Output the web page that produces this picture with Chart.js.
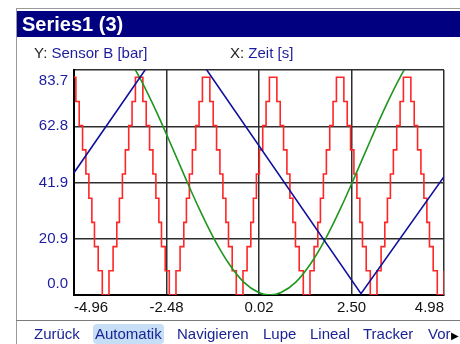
<!DOCTYPE html>
<html>
<head>
<meta charset="utf-8">
<script src="https://cdn.jsdelivr.net/npm/chart.js@4.4.1/dist/chart.umd.min.js"></script>
<style>
  body { margin: 0; width: 460px; height: 344px; background: #fff; overflow: hidden; position: relative;
         font-family: 'Liberation Sans', Arial, sans-serif; }
  canvas { position: absolute; left: 0; top: 0; }
  #frame { position: absolute; left: 16px; top: 8px; width: 444px; height: 336px;
           border-left: 1px solid #9a9a9a; border-top: 1px solid #9a9a9a; }
  #titlebar { position: absolute; left: 17px; top: 11px; width: 443px; height: 26px; background: #000080;
              color: #fff; font-weight: bold; font-size: 20px; line-height: 27px; padding-left: 5px; box-sizing: border-box; }
  .lab { position: absolute; top: 44px; font-size: 15px; line-height: 18px; color: #222; white-space: nowrap; }
  .lab span { color: #1c1c9c; }
  #sep { position: absolute; left: 16px; top: 320px; width: 444px; border-top: 1px solid #7a7a7a; }
  .menu { position: absolute; top: 324px; font-size: 15px; line-height: 20px; color: #1c2494; white-space: nowrap; }
  #auto { background: #c6def6; border-radius: 4px; padding: 0 2px; }
</style>
</head>
<body>
<canvas id="myChart" width="460" height="344"></canvas>
<div id="frame"></div>
<div id="titlebar">Series1 (3)</div>
<div class="lab" style="left:34px">Y:&nbsp;<span>Sensor B [bar]</span></div>
<div class="lab" style="left:230px">X:&nbsp;<span>Zeit [s]</span></div>
<div id="sep"></div>
<div class="menu" style="left:34px">Zurück</div>
<div class="menu" id="auto" style="left:93px">Automatik</div>
<div class="menu" style="left:177px">Navigieren</div>
<div class="menu" style="left:263px">Lupe</div>
<div class="menu" style="left:310px">Lineal</div>
<div class="menu" style="left:363px">Tracker</div>
<div class="menu" style="left:428px">Vor<span style="color:#000;font-size:10px">&#9654;</span></div>
<script>
// axis ticks
const xTicks = [-4.96, -2.475, 0.01, 2.495, 4.98]
const xTickLabels = ['-4.96', '-2.48', '0.02', '2.50', '4.98']
const yTicks = [0, 20.925, 41.85, 62.775, 83.7]
const yTickLabels = ['0.0', '20.9', '41.9', '62.8', '83.7']

// red: stepped signal (time where each level starts, level)
const redT = [
	-5.11, -4.91, -4.82, -4.73, -4.64, -4.56, -4.48, -4.41, -4.31, -4.20,
	-4.02, -3.91, -3.81, -3.74, -3.66, -3.58, -3.49, -3.40, -3.31, -3.11, -3.02, -2.93, -2.84, -2.76, -2.68, -2.61, -2.51, -2.40,
	-2.22, -2.11, -2.01, -1.94, -1.86, -1.78, -1.69, -1.60, -1.51, -1.31, -1.22, -1.13, -1.04, -0.96, -0.88, -0.81, -0.71, -0.60,
	-0.42, -0.31, -0.21, -0.14, -0.06, 0.02, 0.11, 0.20, 0.29, 0.49, 0.58, 0.67, 0.76, 0.84, 0.92, 0.99, 1.09, 1.20,
	1.38, 1.49, 1.59, 1.66, 1.74, 1.82, 1.91, 2.00, 2.09, 2.29, 2.38, 2.47, 2.56, 2.64, 2.72, 2.79, 2.89, 3.00,
	3.18, 3.29, 3.39, 3.46, 3.54, 3.62, 3.71, 3.80, 3.89, 4.09, 4.18, 4.27, 4.36, 4.44, 4.52, 4.59, 4.69, 4.80,
	4.98, 5.10
]
const redY = [
	81, 72, 63, 54, 45, 36, 27, 18, 9, 0,
	9, 18, 27, 36, 45, 54, 63, 72, 81, 72, 63, 54, 45, 36, 27, 18, 9, 0,
	9, 18, 27, 36, 45, 54, 63, 72, 81, 72, 63, 54, 45, 36, 27, 18, 9, 0,
	9, 18, 27, 36, 45, 54, 63, 72, 81, 72, 63, 54, 45, 36, 27, 18, 9, 0,
	9, 18, 27, 36, 45, 54, 63, 72, 81, 72, 63, 54, 45, 36, 27, 18, 9, 0,
	9, 18, 27, 36, 45, 54, 63, 72, 81, 72, 63, 54, 45, 36, 27, 18, 9, 0,
	9, 9
]

// green curve
const greenT = [-3.6, -3.2, -2.8, -2.4, -2.0, -1.6, -1.2, -0.8, -0.4, 0.0, 0.3, 0.6, 1.0, 1.4, 1.8, 2.2, 2.6, 3.0, 3.4, 3.8, 4.2]
const greenY = [90.3, 81.0, 69.8, 57.4, 44.6, 32.2, 21.0, 11.7, 4.8, 0.9, 0.0, 0.9, 4.8, 11.7, 21.0, 32.2, 44.6, 57.4, 69.8, 81.0, 90.3]

// blue triangle
const blueT = [-4.96, -2.22, 2.75, 4.98]
const blueY = [45.5, 100.3, 0.5, 44.0]

const xy = (ts, ys) => ts.map((t, i) => ({ x: t, y: ys[i] }))
const tickFont = { family: "'Liberation Sans', Arial, sans-serif", size: 15 }

const context = document.getElementById('myChart')
const data = {
	datasets: [
		{
			label: 'blue',
			data: xy(blueT, blueY),
			borderColor: '#10109c',
			borderWidth: 1.6,
			pointRadius: 0,
		},
		{
			label: 'green',
			data: xy(greenT, greenY),
			borderColor: '#1f961f',
			borderWidth: 1.6,
			pointRadius: 0,
			tension: 0.4,
		},
		{
			label: 'red',
			data: xy(redT, redY),
			borderColor: '#ff2626',
			borderWidth: 1.6,
			pointRadius: 0,
			stepped: true,
		}
	]
}
const config = {
	type: 'line',
	data: data,
	options: {
		responsive: false,
		animation: false,
		devicePixelRatio: 1,
		layout: { padding: { top: 70, right: 16, bottom: 0, left: 0 } },
		plugins: { legend: { display: false }, tooltip: { enabled: false } },
		scales: {
			x: {
				type: 'linear',
				min: -4.96,
				max: 4.98,
				afterBuildTicks: s => { s.ticks = xTicks.map(v => ({ value: v })) },
				afterFit: s => { s.height = 49 },
				ticks: {
					align: 'inner',
					color: '#111',
					font: tickFont,
					padding: 4,
					maxRotation: 0,
					autoSkip: false,
					callback: (v, i) => xTickLabels[i],
				},
				grid: { color: '#2e2e2e', lineWidth: 1.5, drawTicks: false },
				border: { color: '#000', width: 2 },
			},
			y: {
				min: 0,
				max: 83.7,
				afterBuildTicks: s => { s.ticks = yTicks.map(v => ({ value: v })) },
				afterFit: s => { s.width = 74 },
				ticks: {
					color: '#1c1ca0',
					font: { family: tickFont.family, size: 15, lineHeight: 1.45 },
					padding: 6,
					autoSkip: false,
					callback: (v, i) => i === yTicks.length - 1 ? ['', yTickLabels[i]] : i === 0 ? [yTickLabels[i], ''] : yTickLabels[i],
				},
				grid: { color: '#2e2e2e', lineWidth: 1.5, drawTicks: false },
				border: { color: '#000', width: 2 },
			}
		}
	}
}
const myChart = new Chart(context, config)
</script>
</body>
</html>
